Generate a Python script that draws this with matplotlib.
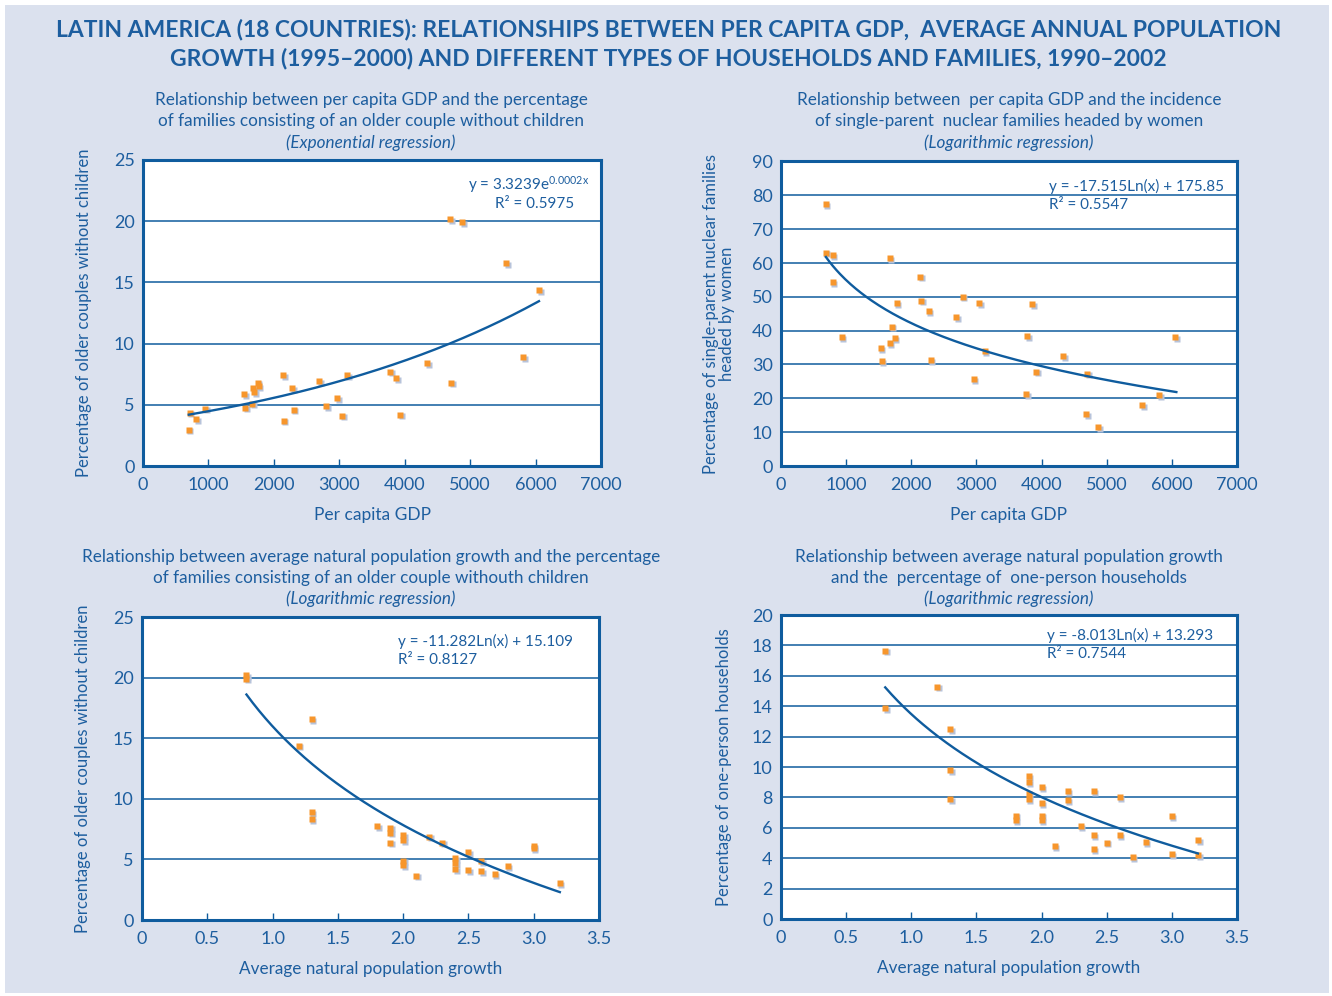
import matplotlib
matplotlib.use("Agg")
import matplotlib.pyplot as plt
import matplotlib.transforms as mtransforms
import numpy as np

plt.rcParams['font.family'] = ['Lato', 'DejaVu Sans']
plt.rcParams['mathtext.fontset'] = 'custom'
plt.rcParams['mathtext.rm'] = 'Lato'
plt.rcParams['mathtext.it'] = 'Lato:italic'

# ---------------- data ----------------
gdp1 = [700, 716, 813, 951, 1547, 1563, 1669, 1680, 1695, 1756, 1771, 2143, 2153, 2276, 2306,
        2694, 2796, 2964, 3040, 3117, 3774, 3866, 3927, 4340, 4691, 4707, 4875, 5548, 5808, 6052]
older1 = [2.96, 4.34, 3.80, 4.69, 5.89, 4.75, 5.08, 6.38, 6.05, 6.79, 6.51, 7.44, 3.69, 6.38, 4.59,
          6.95, 4.91, 5.56, 4.10, 7.44, 7.71, 7.19, 4.18, 8.42, 20.18, 6.79, 19.91, 16.57, 8.91, 14.37]
trend1 = (3.6, 0.000218)          # a * exp(b x), as drawn

gdp2 = [689, 689, 796, 796, 934, 1669, 1777, 1700, 1746, 1669, 1531, 1547, 2135, 2150, 2267, 2297,
        2686, 2787, 2956, 3043, 3124, 3783, 3767, 3859, 3920, 4329, 4697, 4687, 4870, 5544, 5804, 6049]
single2 = [77.4, 63.0, 62.3, 54.4, 38.1, 61.5, 48.2, 41.2, 37.8, 36.3, 34.9, 31.0, 55.9, 48.8, 45.8, 31.3,
           44.0, 50.0, 25.7, 48.2, 34.0, 38.4, 21.2, 47.9, 27.9, 32.5, 27.3, 15.3, 11.4, 18.0, 21.0, 38.1]
trend2 = (-18.35, 181.7)          # a ln(x) + c, as drawn

growth3 = [0.8, 0.8, 1.3, 1.2, 1.3, 1.3, 1.8, 1.9, 1.9, 1.9, 2.0, 2.0, 2.0, 2.0, 2.1, 2.2, 2.3,
           2.4, 2.4, 2.4, 2.5, 2.5, 2.6, 2.6, 2.7, 2.8, 3.0, 3.0, 3.2]
older3 = [20.2, 19.9, 16.56, 14.37, 8.9, 8.3, 7.73, 7.6, 7.2, 6.39, 7.0, 6.6, 4.9, 4.5, 3.66, 6.86, 6.39,
          5.1, 4.7, 4.2, 5.57, 4.10, 4.86, 4.02, 3.77, 4.43, 6.1, 5.9, 3.03]
trend3 = (-11.76, 15.98)

growth4 = [0.8, 0.8, 1.2, 1.3, 1.3, 1.3, 1.8, 1.8, 1.9, 1.9, 1.9, 1.9, 2.0, 2.0, 2.0, 2.0, 2.1, 2.2, 2.2,
           2.3, 2.4, 2.4, 2.4, 2.5, 2.6, 2.6, 2.7, 2.8, 3.0, 3.0, 3.2, 3.2]
oneperson4 = [17.65, 13.86, 15.28, 12.48, 9.79, 7.89, 6.8, 6.5, 9.4, 9.0, 8.2, 7.9, 8.68, 7.63, 6.8, 6.5,
              4.78, 8.39, 7.82, 6.12, 8.39, 5.50, 4.59, 5.02, 8.02, 5.50, 4.08, 5.07, 6.77, 4.28, 5.20, 4.19]
trend4 = (-7.88, 13.48)

BLUE = '#1D5E9F'
LINE = '#0F5C9E'
ORANGE = '#F7962C'
SHADOW = '#B7C3DA'
BG = '#DBE1EE'

fig = plt.figure(figsize=(13.32, 9.96), dpi=100)
fig.patch.set_facecolor('white')
fig.patches.append(plt.Rectangle((5/1332, 3/996), 1324/1332, 988/996, transform=fig.transFigure,
                                 facecolor=BG, edgecolor='none', zorder=-10))

fig.text(0.502, 1 - 30/996, 'LATIN AMERICA (18 COUNTRIES): RELATIONSHIPS BETWEEN PER CAPITA GDP,  AVERAGE ANNUAL POPULATION',
         ha='center', va='center', fontsize=16.5, fontweight='bold', color=BLUE)
fig.text(0.502, 1 - 58/996, 'GROWTH (1995–2000) AND DIFFERENT TYPES OF HOUSEHOLDS AND FAMILIES, 1990–2002',
         ha='center', va='center', fontsize=16.5, fontweight='bold', color=BLUE)


def make_axes(rect, xlim, xticks, xticklabels, ylim, yticks):
    ax = fig.add_axes(rect)
    ax.set_facecolor('white')
    ax.set_xlim(*xlim)
    ax.set_ylim(*ylim)
    ax.set_xticks(xticks)
    ax.set_xticklabels(xticklabels)
    ax.set_yticks(yticks)
    for s in ax.spines.values():
        s.set_color(LINE)
        s.set_linewidth(2.2)
    ax.tick_params(axis='x', direction='in', length=5, width=1.0, color=LINE, labelcolor=BLUE,
                   labelsize=13, pad=8)
    ax.tick_params(axis='y', length=0, labelcolor=BLUE, labelsize=13, pad=6)
    for yv in yticks[1:-1]:
        ax.axhline(yv, color=LINE, lw=1.1, zorder=1)
    return ax


def scatter(ax, x, y):
    sh = mtransforms.offset_copy(ax.transData, fig=fig, x=1.6, y=-1.6, units='dots')
    ax.plot(x, y, 's', ms=5.0, color=SHADOW, mec='none', transform=sh, zorder=2)
    ax.plot(x, y, 's', ms=5.0, color=ORANGE, mec='none', zorder=3)


def titles(ax, lines, cx, ys):
    for i, (t, y) in enumerate(zip(lines, ys)):
        fig.text(cx, 1 - y/996, t, ha='center', va='center', fontsize=12.3, color=BLUE,
                 style='italic' if i == 2 else 'normal')


gdp_ticks = [0, 1000, 2000, 3000, 4000, 5000, 6000, 7000]
gdp_labels = [str(v) for v in gdp_ticks]
gr_ticks = [0, 0.5, 1.0, 1.5, 2.0, 2.5, 3.0, 3.5]
gr_labels = ['0', '0.5', '1.0', '1.5', '2.0', '2.5', '3.0', '3.5']
EQ = 11

# Panel 1
ax1 = make_axes([143/1332, 1 - 466/996, 458/1332, 306/996], (0, 7000), gdp_ticks, gdp_labels,
                (0, 25), [0, 5, 10, 15, 20, 25])
scatter(ax1, gdp1, older1)
xx = np.linspace(min(gdp1), max(gdp1), 200)
ax1.plot(xx, trend1[0] * np.exp(trend1[1] * xx), color=LINE, lw=1.7, zorder=4)
ax1.set_xlabel('Per capita GDP', fontsize=12.5, color=BLUE, labelpad=10)
ax1.set_ylabel('Percentage of older couples without children', fontsize=12, color=BLUE, labelpad=16)
ax1.text(589/1332, 1 - 185/996, r'y = 3.3239e$^{\mathrm{0.0002x}}$', transform=fig.transFigure,
         ha='right', va='center', fontsize=EQ, color=BLUE)
ax1.text(574/1332, 1 - 204/996, 'R² = 0.5975', transform=fig.transFigure,
         ha='right', va='center', fontsize=EQ, color=BLUE)
titles(ax1, ['Relationship between per capita GDP and the percentage',
             'of families consisting of an older couple without children',
             '(Exponential regression)'], 371/1332, [100, 121, 143])

# Panel 2
ax2 = make_axes([781/1332, 1 - 466/996, 456/1332, 304.5/996], (0, 7000), gdp_ticks, gdp_labels,
                (0, 90), [0, 10, 20, 30, 40, 50, 60, 70, 80, 90])
scatter(ax2, gdp2, single2)
xx = np.linspace(min(gdp2), max(gdp2) + 20, 200)
ax2.plot(xx, trend2[0] * np.log(xx) + trend2[1], color=LINE, lw=1.7, zorder=4)
ax2.set_xlabel('Per capita GDP', fontsize=12.5, color=BLUE, labelpad=10)
ax2.set_ylabel('Percentage of single-parent nuclear families\nheaded by women', fontsize=12,
               color=BLUE, labelpad=12, linespacing=1.0)
ax2.text(1049/1332, 1 - 186/996, 'y = -17.515Ln(x) + 175.85', transform=fig.transFigure,
         ha='left', va='center', fontsize=EQ, color=BLUE)
ax2.text(1049/1332, 1 - 205/996, 'R² = 0.5547', transform=fig.transFigure,
         ha='left', va='center', fontsize=EQ, color=BLUE)
titles(ax2, ['Relationship between  per capita GDP and the incidence',
             'of single-parent  nuclear families headed by women',
             '(Logarithmic regression)'], 1009/1332, [100, 121, 143])

# Panel 3
ax3 = make_axes([142/1332, 1 - 920/996, 457/1332, 303/996], (0, 3.5), gr_ticks, gr_labels,
                (0, 25), [0, 5, 10, 15, 20, 25])
scatter(ax3, growth3, older3)
xx = np.linspace(min(growth3), max(growth3), 200)
ax3.plot(xx, trend3[0] * np.log(xx) + trend3[1], color=LINE, lw=1.7, zorder=4)
ax3.set_xlabel('Average natural population growth', fontsize=12.3, color=BLUE, labelpad=10)
ax3.set_ylabel('Percentage of older couples without children', fontsize=12, color=BLUE, labelpad=16)
ax3.text(398/1332, 1 - 641/996, 'y = -11.282Ln(x) + 15.109', transform=fig.transFigure,
         ha='left', va='center', fontsize=EQ, color=BLUE)
ax3.text(398/1332, 1 - 660/996, 'R² = 0.8127', transform=fig.transFigure,
         ha='left', va='center', fontsize=EQ, color=BLUE)
titles(ax3, ['Relationship between average natural population growth and the percentage',
             'of families consisting of an older couple withouth children',
             '(Logarithmic regression)'], 371/1332, [557, 578, 599])

# Panel 4
ax4 = make_axes([781/1332, 1 - 919/996, 456/1332, 304/996], (0, 3.5), gr_ticks, gr_labels,
                (0, 20), [0, 2, 4, 6, 8, 10, 12, 14, 16, 18, 20])
scatter(ax4, growth4, oneperson4)
xx = np.linspace(min(growth4), max(growth4), 200)
ax4.plot(xx, trend4[0] * np.log(xx) + trend4[1], color=LINE, lw=1.7, zorder=4)
ax4.set_xlabel('Average natural population growth', fontsize=12.3, color=BLUE, labelpad=10)
ax4.set_ylabel('Percentage of one-person households', fontsize=12, color=BLUE, labelpad=14)
ax4.text(1047/1332, 1 - 635/996, 'y = -8.013Ln(x) + 13.293', transform=fig.transFigure,
         ha='left', va='center', fontsize=EQ, color=BLUE)
ax4.text(1047/1332, 1 - 654/996, 'R² = 0.7544', transform=fig.transFigure,
         ha='left', va='center', fontsize=EQ, color=BLUE)
titles(ax4, ['Relationship between average natural population growth',
             'and the  percentage of  one-person households',
             '(Logarithmic regression)'], 1009/1332, [557, 578, 599])

fig.savefig('out.png', dpi=100, facecolor=fig.get_facecolor())
